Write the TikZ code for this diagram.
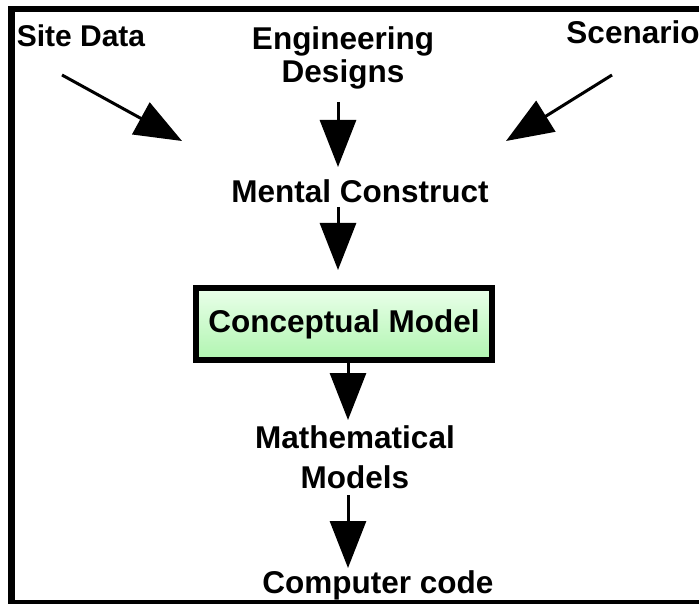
\documentclass[tikz,border=0pt]{standalone}
\usepackage{fontspec}
\setmainfont{Liberation Sans}
\usetikzlibrary{arrows.meta}
\definecolor{boxtop}{RGB}{234,255,234}
\definecolor{boxbot}{RGB}{176,245,176}
\begin{document}
\begin{tikzpicture}[x=1pt,y=-1pt,
  lbl/.style={font=\fontsize{31.5}{33}\selectfont\bfseries, inner sep=0pt},
  bigarrow/.style={line width=3pt, -{Triangle[length=47pt,width=36pt]}},
  cmbox/.style={lbl, draw, line width=6.5pt, minimum width=296pt, minimum height=72pt,
    top color=boxtop, bottom color=boxbot},
  frame/.style={line width=6.5pt, line join=miter}
]
\useasboundingbox (0,0) rectangle (699,604);
\draw[frame] (720,9) -- (11.5,9) -- (11.5,603) -- (720,603);

\node[lbl, anchor=base, font=\fontsize{30}{33}\selectfont\bfseries] (site) at (81,47) {Site Data};
\node[lbl, anchor=north, align=center] (eng) at (343,26) {Engineering\\Designs};
\node[lbl, anchor=base] (scen) at (633,44) {Scenario};
\node[lbl, anchor=base] (mental) at (360,203) {Mental Construct};
\node[cmbox] (cm) at (344,324) {Conceptual Model};
\node[lbl, anchor=north, align=center, font=\fontsize{31.5}{40}\selectfont\bfseries] (math) at (355,425) {Mathematical\\Models};
\node[lbl, anchor=base] (code) at (378,593) {Computer code};

\coordinate (siteS) at (62,75);
\coordinate (siteT) at (182,141);
\coordinate (engS) at (338,102);
\coordinate (engT) at (338,167);
\coordinate (scenS) at (612,75);
\coordinate (scenT) at (506,141);
\coordinate (mentS) at (338,207);
\coordinate (mentT) at (338,270);
\coordinate (cmT) at (348,420);
\coordinate (mathS) at (348,495);
\coordinate (mathT) at (348,568);

\draw[bigarrow] (siteS) -- (siteT);
\draw[bigarrow] (engS) -- (engT);
\draw[bigarrow] (scenS) -- (scenT);
\draw[bigarrow] (mentS) -- (mentT);
\draw[bigarrow] ([xshift=4pt]cm.south) -- (cmT);
\draw[bigarrow] (mathS) -- (mathT);
\end{tikzpicture}
\end{document}
